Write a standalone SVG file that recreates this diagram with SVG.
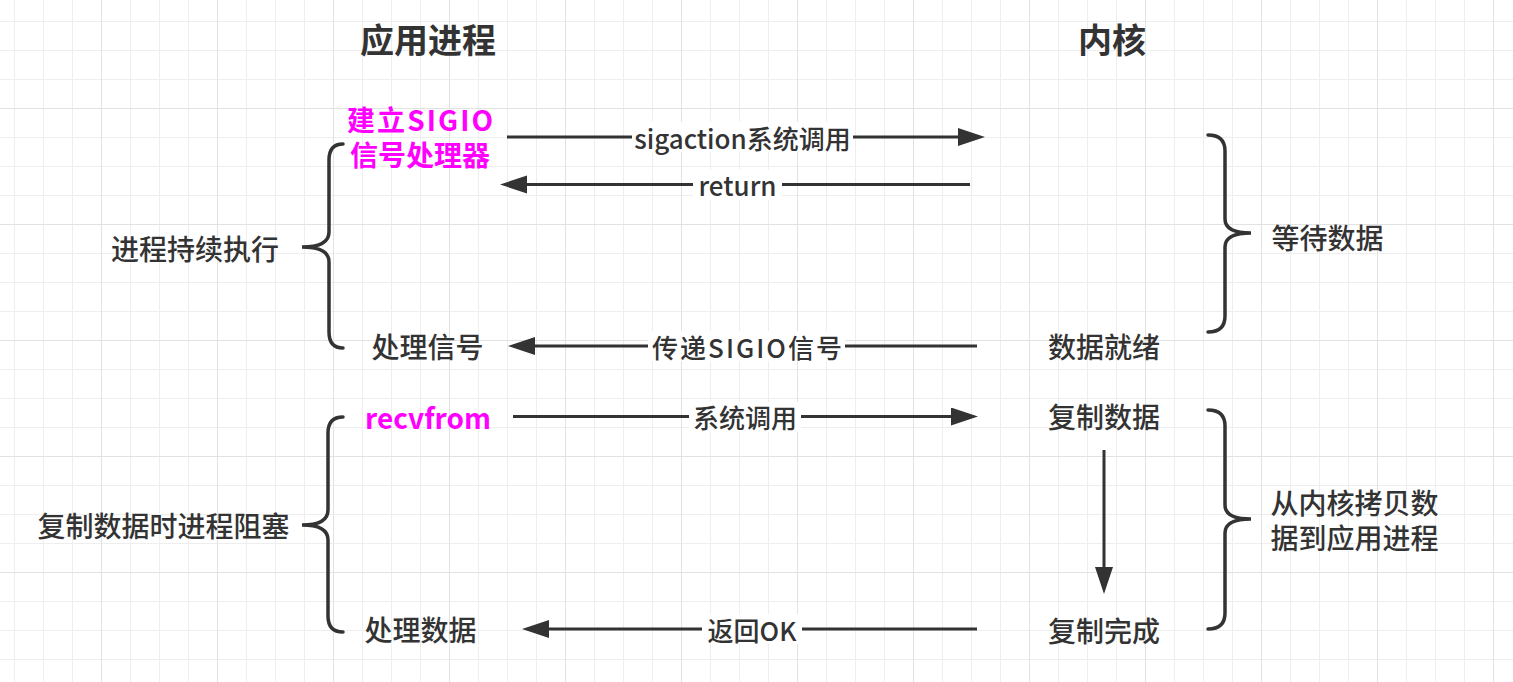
<svg xmlns="http://www.w3.org/2000/svg" width="1513" height="682" viewBox="0 0 1513 682">
<style>
text{font-family:"Noto Sans CJK SC","Noto Sans",sans-serif;fill:#333;dominant-baseline:central;text-anchor:middle}
.title{font-size:34px;font-weight:700}
.node{font-size:28px;font-weight:500}
.mag{font-size:28px;font-weight:700;fill:#ff00ff}
.lbl{font-size:26px;font-weight:500}
.conn{stroke:#333;stroke-width:3;fill:none}
.brace{stroke:#333;stroke-width:3.5;fill:none;stroke-linecap:round}
.lblbg{fill:#fff}
</style>
<defs>
<pattern id="grid" x="14" y="21" width="116" height="116" patternUnits="userSpaceOnUse">
<rect x="0" y="0" width="1" height="116" fill="#eeeeee"/>
<rect x="29" y="0" width="1" height="116" fill="#eeeeee"/>
<rect x="58" y="0" width="1" height="116" fill="#eeeeee"/>
<rect x="0" y="0" width="116" height="1" fill="#eeeeee"/>
<rect x="0" y="29" width="116" height="1" fill="#eeeeee"/>
<rect x="0" y="58" width="116" height="1" fill="#eeeeee"/>
<rect x="87" y="0" width="1" height="116" fill="#e2e2e2"/>
<rect x="0" y="87" width="116" height="1" fill="#e2e2e2"/>
</pattern>
<marker id="ah" markerUnits="userSpaceOnUse" markerWidth="28" markerHeight="20" refX="21" refY="9" orient="auto">
<path d="M0,0 L27,9 L0,18 Z" fill="#333"/>
</marker>
</defs>
<rect width="1513" height="682" fill="#fff"/>
<rect width="1513" height="682" fill="url(#grid)"/>

<g id="connectors">
<line class="conn" x1="507" y1="137" x2="979" y2="137" marker-end="url(#ah)"/>
<line class="conn" x1="970" y1="184.5" x2="506" y2="184.5" marker-end="url(#ah)"/>
<line class="conn" x1="977" y1="346" x2="514" y2="346" marker-end="url(#ah)"/>
<line class="conn" x1="513" y1="416.5" x2="972" y2="416.5" marker-end="url(#ah)"/>
<line class="conn" x1="977" y1="629" x2="528" y2="629" marker-end="url(#ah)"/>
<line class="conn" x1="1104" y1="450" x2="1104" y2="588" marker-end="url(#ah)"/>
<rect class="lblbg" x="632" y="122" width="221" height="30"/>
<text class="lbl" x="742.5" y="137">sigaction系统调用</text>
<rect class="lblbg" x="693" y="170" width="89" height="30"/>
<text class="lbl" x="737.5" y="184">return</text>
<rect class="lblbg" x="648" y="331" width="197" height="30"/>
<text class="lbl" x="747" y="346" textLength="190">传递SIGIO信号</text>
<rect class="lblbg" x="689" y="402" width="112" height="30"/>
<text class="lbl" x="745" y="416">系统调用</text>
<rect class="lblbg" x="702" y="614" width="100" height="30"/>
<text class="lbl" x="752" y="629">返回OK</text>
</g>

<g id="title-app"><text class="title" x="428" y="38">应用进程</text></g>
<g id="title-kernel"><text class="title" x="1112" y="38">内核</text></g>

<g id="setup-sigio">
<text class="mag" x="420" y="118.5" textLength="146">建立SIGIO</text>
<text class="mag" x="420" y="153.5">信号处理器</text>
</g>
<g id="handle-signal"><text class="node" x="427.5" y="346">处理信号</text></g>
<g id="recvfrom"><text class="mag" x="428" y="417">recvfrom</text></g>
<g id="handle-data"><text class="node" x="420.5" y="629">处理数据</text></g>

<g id="data-ready"><text class="node" x="1104" y="346">数据就绪</text></g>
<g id="copy-data"><text class="node" x="1104" y="416">复制数据</text></g>
<g id="copy-done"><text class="node" x="1104" y="629.5">复制完成</text></g>

<g id="brace-continue">
<path class="brace" d="M343,144 Q329,144 329,160 L329,232 Q329,247 302,247 Q329,247 329,262 L329,332 Q329,348 343,348"/>
<text class="node" x="195" y="248">进程持续执行</text>
</g>
<g id="brace-blocked">
<path class="brace" d="M343,417 Q328,417 328,433 L328,510 Q328,525 302,525 Q328,525 328,540 L328,616 Q328,632 343,632"/>
<text class="node" x="163.5" y="525">复制数据时进程阻塞</text>
</g>
<g id="brace-wait">
<path class="brace" d="M1208,135 Q1225,135 1225,151 L1225,219 Q1225,233 1251,233 Q1225,233 1225,247 L1225,316 Q1225,332 1208,332"/>
<text class="node" x="1327.5" y="237">等待数据</text>
</g>
<g id="brace-copy">
<path class="brace" d="M1208,410 Q1225,410 1225,426 L1225,505 Q1225,519 1251,519 Q1225,519 1225,533 L1225,613 Q1225,629 1208,629"/>
<text class="node" x="1354.5" y="502">从内核拷贝数</text>
<text class="node" x="1354.5" y="537">据到应用进程</text>
</g>
</svg>
